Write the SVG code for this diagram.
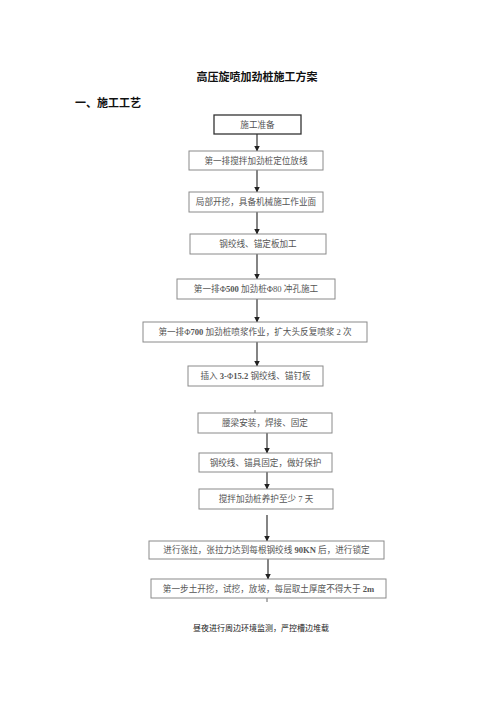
<svg xmlns="http://www.w3.org/2000/svg" width="500" height="707" viewBox="0 0 500 707">
<defs>
<style>
.box{fill:#fff;stroke:#8a8a8a;stroke-width:1}
.box1{fill:#fff;stroke:#333;stroke-width:1.3}
.t{font-family:"Liberation Serif","Noto Sans CJK SC",serif;font-size:8.6px;fill:#555;text-anchor:middle;dominant-baseline:central}
.b{font-weight:bold}
.h{font-family:"Liberation Sans","Noto Sans CJK SC",sans-serif;font-weight:bold;fill:#111}
.c{stroke:#333;stroke-width:1.2;fill:none;marker-end:url(#ah)}
.s{stroke:#666;stroke-width:1;fill:none}
</style>
<marker id="ah" viewBox="0 0 10 10" refX="9" refY="5" markerWidth="5.5" markerHeight="5.5" orient="auto" markerUnits="userSpaceOnUse">
<path d="M0,0 L10,5 L0,10 z" fill="#222"/>
</marker>
</defs>
<rect width="500" height="707" fill="#fff"/>
<text class="h" x="257" y="81" font-size="11" text-anchor="middle">高压旋喷加劲桩施工方案</text>
<text class="h" x="75" y="107" font-size="11">一、施工工艺</text>
<g id="connectors">
<line class="c" x1="257" y1="134" x2="257" y2="151"/>
<line class="c" x1="257" y1="170" x2="257" y2="192"/>
<line class="c" x1="257" y1="212" x2="257" y2="234"/>
<line class="c" x1="257" y1="254" x2="257" y2="279"/>
<line class="c" x1="257" y1="299" x2="257" y2="322"/>
<line class="c" x1="257" y1="342" x2="257" y2="366"/>
<line class="s" x1="255" y1="410" x2="255" y2="413"/>
<line class="c" x1="267" y1="433" x2="267" y2="453"/>
<line class="c" x1="267" y1="472" x2="267" y2="489"/>
<line class="c" x1="267" y1="515" x2="267" y2="541"/>
<line class="c" x1="268" y1="559" x2="268" y2="579"/>
<line class="s" x1="267" y1="598" x2="267" y2="602"/>
</g>
<g id="n1"><rect class="box1" x="214" y="115" width="87" height="19"/><text class="t" x="257.5" y="124.5">施工准备</text></g>
<g id="n2"><rect class="box" x="189" y="151" width="134" height="19"/><text class="t" x="256" y="160.5">第一排搅拌加劲桩定位放线</text></g>
<g id="n3"><rect class="box" x="189" y="192" width="134" height="20"/><text class="t" x="256" y="202">局部开挖，具备机械施工作业面</text></g>
<g id="n4"><rect class="box" x="190" y="234" width="136" height="20"/><text class="t" x="258" y="244">钢绞线、锚定板加工</text></g>
<g id="n5"><rect class="box" x="177" y="279" width="158" height="20"/><text class="t" x="256" y="289">第一排Φ<tspan class="b">500</tspan> 加劲桩Φ80 冲孔施工</text></g>
<g id="n6"><rect class="box" x="143" y="322" width="224" height="20"/><text class="t" x="255" y="332">第一排Φ<tspan class="b">700</tspan> 加劲桩喷浆作业，扩大头反复喷浆 2 次</text></g>
<g id="n7"><rect class="box" x="188" y="366" width="135" height="20"/><text class="t" x="255.5" y="376">插入 <tspan class="b">3-</tspan>Φ<tspan class="b">15.2</tspan> 钢绞线、锚钉板</text></g>
<g id="n8"><rect class="box" x="198" y="413" width="134" height="20"/><text class="t" x="265" y="423">腰梁安装，焊接、固定</text></g>
<g id="n9"><rect class="box" x="199" y="453" width="133" height="19"/><text class="t" x="265.5" y="462.5">钢绞线、锚具固定，做好保护</text></g>
<g id="n10"><rect class="box" x="199" y="489" width="134" height="20"/><text class="t" x="266" y="499">搅拌加劲桩养护至少 7 天</text></g>
<g id="n11"><rect class="box" x="149" y="541" width="235" height="18"/><text class="t" x="266.5" y="550">进行张拉，张拉力达到每根钢绞线 <tspan class="b">90KN</tspan> 后，进行锁定</text></g>
<g id="n12"><rect class="box" x="151" y="579" width="235" height="19"/><text class="t" x="268.5" y="588.5">第一步土开挖，试挖，放坡，每层取土厚度不得大于 <tspan class="b">2m</tspan></text></g>
<text x="261" y="631" font-family="'Noto Sans CJK SC','Liberation Sans',sans-serif" font-size="8" fill="#222" text-anchor="middle">昼夜进行周边环境监测，严控槽边堆载</text>
</svg>
